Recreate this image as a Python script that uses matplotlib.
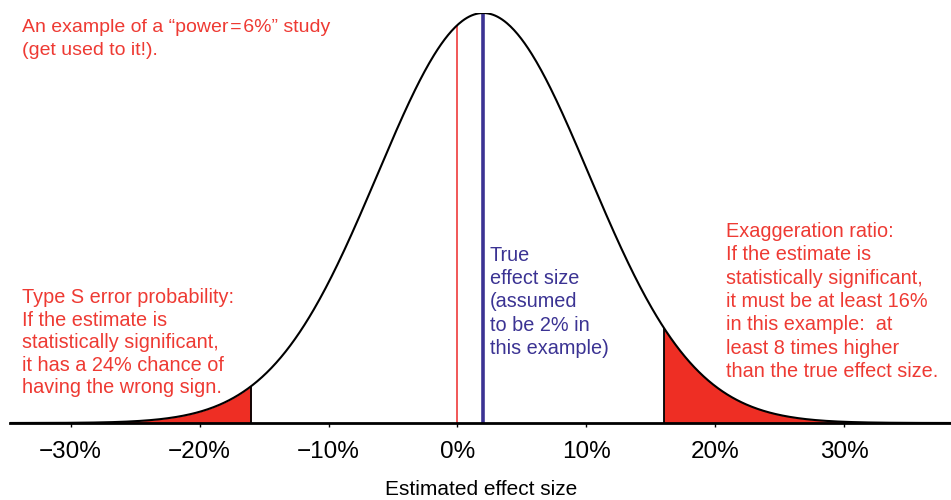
import numpy as np
import matplotlib
matplotlib.use("Agg")
import matplotlib.pyplot as plt

plt.rcParams['font.family'] = ['Liberation Sans', 'DejaVu Sans']

# sampling distribution of the estimate
true_effect = 2.0      # percent
std_error = 8.2        # percent
threshold = 16.0       # significance cut-off, percent
tick_values = [-30, -20, -10, 0, 10, 20, 30]

title_lines = ["An example of a \u201cpower\u200a=\u200a6%\u201d study", "(get used to it!)."]
type_s_lines = ["Type S error probability:", "If the estimate is",
                "statistically significant,", "it has a 24% chance of",
                "having the wrong sign."]
true_lines = ["True", "effect size", "(assumed", "to be 2% in", "this example)"]
exagg_lines = ["Exaggeration ratio:", "If the estimate is",
               "statistically significant,", "it must be at least 16%",
               "in this example:  at", "least 8 times higher",
               "than the true effect size."]

RED = '#ee3a33'
FILL = '#ee2e24'
BLUE = '#3b3393'

W, H = 951, 500
fig = plt.figure(figsize=(W / 100, H / 100), dpi=100)
ax = fig.add_axes([10 / W, 1 - 423 / H, 941 / W, 410 / H])


def density(x):
    return np.exp(-0.5 * ((x - true_effect) / std_error) ** 2)


xmin, xmax = -34.71, 38.29
xs = np.linspace(xmin, xmax, 800)
ax.plot(xs, density(xs), color='black', lw=1.5, zorder=3)

# shaded tails beyond the significance threshold
left = np.linspace(xmin, -threshold, 300)
right = np.linspace(threshold, xmax, 300)
ax.fill_between(left, 0, density(left), color=FILL, lw=0, zorder=2)
ax.fill_between(right, 0, density(right), color=FILL, lw=0, zorder=2)
ax.vlines([-threshold, threshold], 0, density(np.array([-threshold, threshold])),
          color='black', lw=1.3, zorder=3)

ax.vlines(0, 0, density(0.0), color='#f04a4a', lw=1.3, zorder=2)
ax.vlines(true_effect, 0, density(true_effect), color=BLUE, lw=2.6, zorder=2)

ax.set_xlim(xmin, xmax)
ax.set_ylim(0, 1.0)
for s in ['top', 'left', 'right']:
    ax.spines[s].set_visible(False)
ax.spines['bottom'].set_linewidth(2.0)
ax.set_yticks([])
ax.set_xticks(tick_values)
ax.set_xticklabels([f"{v}%".replace('-', '\u2212') for v in tick_values], fontsize=17.5)
ax.tick_params(axis='x', length=3, width=1.0, pad=10)

fig.text(481 / W, 1 - 495 / H, "Estimated effect size", ha='center', va='baseline', fontsize=15)


def block(lines, x, y0, color, step=23.2, size=14.3):
    for i, line in enumerate(lines):
        fig.text(x / W, 1 - (y0 + i * step) / H, line, color=color,
                 fontsize=size, ha='left', va='baseline')


block(title_lines, 22, 32, RED, step=23, size=14.0)
block(type_s_lines, 22, 303, RED, step=22.6)
block(true_lines, 490, 261, BLUE)
block(exagg_lines, 726, 237, RED, step=23.3)

fig.savefig('out.png', dpi=100)
